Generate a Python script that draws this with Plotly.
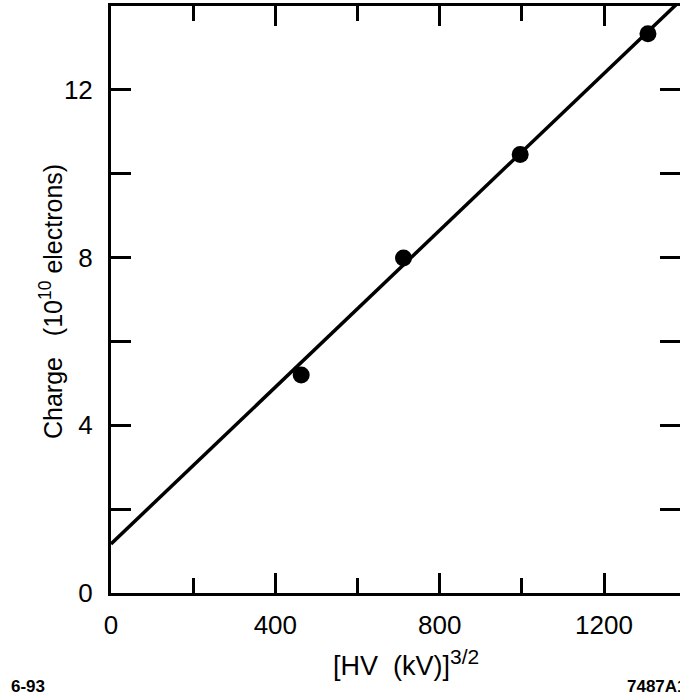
import plotly.graph_objects as go

# Data
hv_x = [463, 712, 996, 1307]          # [HV (kV)]^3/2
charge_y = [5.20, 7.99, 10.46, 13.34]  # 10^10 electrons

fit_x = [0, 1400]
fit_y = [1.17, 14.26]

x_tickvals = [0, 400, 800, 1200]
x_ticktext = ["0", "400", "800", "1200"]
x_minor = [200, 600, 1000]
y_tickvals = [0, 4, 8, 12]
y_ticktext = ["0", "4", "8", "12"]
y_minor = [2, 6, 10]

FONT = "Liberation Sans, Arial, Helvetica, sans-serif"

W, H = 680, 695
L, R, T, B = 111, 0, 6, 102


def px_to_paper(px, py):
    return (px - L) / (W - L - R), 1 - (py - T) / (H - T - B)


fig = go.Figure()
fig.add_trace(go.Scatter(x=fit_x, y=fit_y, mode="lines",
                         line=dict(color="black", width=3.5), showlegend=False,
                         hoverinfo="skip"))
fig.add_trace(go.Scatter(x=hv_x, y=charge_y, mode="markers",
                         marker=dict(color="black", size=17), showlegend=False))

fig.update_layout(
    width=W, height=H,
    margin=dict(l=L, r=R, t=T, b=B, autoexpand=False),
    paper_bgcolor="white", plot_bgcolor="white",
    font=dict(family=FONT, color="black", size=26),
    xaxis=dict(
        range=[0, 1385], showgrid=False, zeroline=False, automargin=False,
        showline=True, linecolor="black", linewidth=3, mirror="ticks",
        ticks="inside", ticklen=20, tickwidth=2.5, tickcolor="black",
        tickvals=x_tickvals, ticktext=x_ticktext,
        tickfont=dict(size=26), ticklabelstandoff=7,
        minor=dict(ticks="inside", ticklen=15, tickwidth=2.5, tickcolor="black",
                   tickvals=x_minor),
    ),
    yaxis=dict(
        range=[0, 14], showgrid=False, zeroline=False, automargin=False,
        showline=True, linecolor="black", linewidth=3, mirror="ticks",
        ticks="inside", ticklen=20, tickwidth=2.5, tickcolor="black",
        tickvals=y_tickvals, ticktext=y_ticktext,
        tickfont=dict(size=26), ticklabelstandoff=10,
        minor=dict(ticks="inside", ticklen=20, tickwidth=2.5, tickcolor="black",
                   tickvals=y_minor),
    ),
)

# axis titles, placed where the reference shows them
tx, ty = px_to_paper(51, 302)
fig.add_annotation(text="Charge\u00a0\u00a0\u00a0(10<sup>10</sup> electrons)",
                   xref="paper", yref="paper", x=tx, y=ty, textangle=-90,
                   showarrow=False, font=dict(size=25),
                   xanchor="center", yanchor="middle")

tx, ty = px_to_paper(406, 663)
fig.add_annotation(text="[HV\u00a0\u00a0(kV)]<sup><span style=\"font-size:21px\">3/2</span></sup>",
                   xref="paper", yref="paper", x=tx, y=ty,
                   showarrow=False, font=dict(size=27),
                   xanchor="center", yanchor="middle")

footnotes = [("<b>6-93</b>", 9, 687), ("<b>7487A1</b>", 625, 687)]
for txt, px, py in footnotes:
    ax, ay = px_to_paper(px, py)
    fig.add_annotation(text=txt, xref="paper", yref="paper", x=ax, y=ay,
                       showarrow=False, font=dict(size=17),
                       xanchor="left", yanchor="middle")

fig.write_html("out.html", config={"displayModeBar": False},
               post_script="document.body.style.margin='0';")
